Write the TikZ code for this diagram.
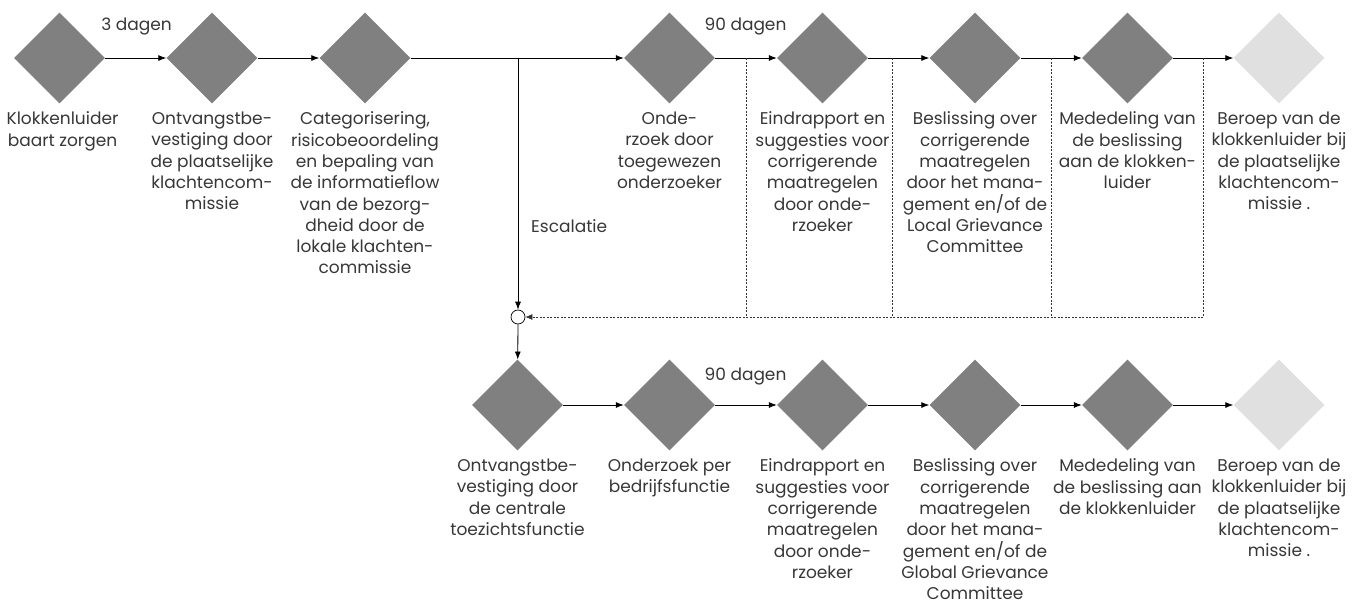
\documentclass[tikz,border=0pt]{standalone}
\usepackage{fontspec}
\setmainfont{Poppins}
\usetikzlibrary{shapes.geometric,arrows.meta,positioning}
\definecolor{dia}{RGB}{128,128,128}
\definecolor{dialight}{RGB}{224,224,224}
\definecolor{txt}{RGB}{55,55,55}
\begin{document}
\begin{tikzpicture}[x=1pt,y=-1pt,
  dnode/.style={diamond, fill=dia, minimum width=91pt, minimum height=91pt, inner sep=0pt, draw=none},
  dlight/.style={dnode, fill=dialight},
  lbl/.style={anchor=north, align=center, text=txt, font=\fontsize{17}{21.3}\selectfont, inner sep=0pt},
  note/.style={text=txt, font=\fontsize{17}{21.3}\selectfont, inner sep=0pt},
  flow/.style={-{Latex[length=8pt,width=6pt]}, line width=0.8pt, black},
  dashline/.style={dash pattern=on 2pt off 1.5pt, line width=0.7pt, black!80},
]
\useasboundingbox (0,0) rectangle (1363,605);
% top row
\node[dnode] (t1) at (59.5,58) {};
\node[dnode] (t2) at (212,58) {};
\node[dnode] (t3) at (365,58) {};
\node[dnode] (t4) at (669.5,58) {};
\node[dnode] (t5) at (822.5,58) {};
\node[dnode] (t6) at (975,58) {};
\node[dnode] (t7) at (1127.5,58) {};
\node[dlight] (t8) at (1279,58) {};
% bottom row
\node[dnode] (b1) at (517.5,405) {};
\node[dnode] (b2) at (669.5,405) {};
\node[dnode] (b3) at (822.5,405) {};
\node[dnode] (b4) at (975,405) {};
\node[dnode] (b5) at (1127.5,405) {};
\node[dlight] (b6) at (1279,405) {};
% junction circle
\node[circle, draw, line width=0.7pt, minimum size=14pt, inner sep=0pt, fill=white] (c) at (518,317) {};
\coordinate (esc) at (518,58);
\coordinate (d1) at (746,58);
\coordinate (d2) at (892,58);
\coordinate (d3) at (1051,58);
\coordinate (d4) at (1203,58);
% labels top
\node[lbl, below=8pt of t1, xshift=3pt] (l1) {Klokkenluider\\baart zorgen};
\node[lbl, below=8pt of t2] (l2) {Ontvangstbe-\\vestiging door\\de plaatselijke\\klachtencom-\\missie};
\node[lbl, below=8pt of t3] (l3) {Categorisering,\\risicobeoordeling\\en bepaling van\\de informatieflow\\van de bezorg-\\dheid door de\\lokale klachten-\\commissie};
\node[lbl, below=8pt of t4] (l4) {Onde-\\rzoek door\\toegewezen\\onderzoeker};
\node[lbl, below=8pt of t5] (l5) {Eindrapport en\\suggesties voor\\corrigerende\\maatregelen\\door onde-\\rzoeker};
\node[lbl, below=8pt of t6] (l6) {Beslissing over\\corrigerende\\maatregelen\\door het mana-\\gement en/of de\\Local Grievance\\Committee};
\node[lbl, below=8pt of t7] (l7) {Mededeling van\\de beslissing\\aan de klokken-\\luider};
\node[lbl, below=8pt of t8] (l8) {Beroep van de\\klokkenluider bij\\de plaatselijke\\klachtencom-\\missie .};
% labels bottom
\node[lbl, below=8pt of b1] (m1) {Ontvangstbe-\\vestiging door\\de centrale\\toezichtsfunctie};
\node[lbl, below=8pt of b2] (m2) {Onderzoek per\\bedrijfsfunctie};
\node[lbl, below=8pt of b3] (m3) {Eindrapport en\\suggesties voor\\corrigerende\\maatregelen\\door onde-\\rzoeker};
\node[lbl, below=8pt of b4] (m4) {Beslissing over\\corrigerende\\maatregelen\\door het mana-\\gement en/of de\\Global Grievance\\Committee};
\node[lbl, below=8pt of b5] (m5) {Mededeling van\\de beslissing aan\\de klokkenluider};
\node[lbl, below=8pt of b6] (m6) {Beroep van de\\klokkenluider bij\\de plaatselijke\\klachtencom-\\missie .};
% notes
\node[note] (n1) at (136.5,27) {3 dagen};
\node[note] (n2) at (745.5,27) {90 dagen};
\node[note] (n3) at (745.5,377) {90 dagen};
\node[note, anchor=west] (n4) at (531,226) {Escalatie};
% connectors top
\draw[flow] (t1) -- (t2);
\draw[flow] (t2) -- (t3);
\draw[flow] (t3) -- (t4);
\draw[flow] (t4) -- (t5);
\draw[flow] (t5) -- (t6);
\draw[flow] (t6) -- (t7);
\draw[flow] (t7) -- (t8);
% escalation
\draw[flow] (esc) -- (c);
\draw[flow] (c) -- (b1);
% dashed returns
\draw[dashline] (d1) -- (d1 |- c);
\draw[dashline] (d2) -- (d2 |- c);
\draw[dashline] (d3) -- (d3 |- c);
\draw[dashline] (d4) -- (d4 |- c);
\draw[dashline, -{Latex[length=7pt,width=6pt]}] (d4 |- c) -- (c);
% connectors bottom
\draw[flow] (b1) -- (b2);
\draw[flow] (b2) -- (b3);
\draw[flow] (b3) -- (b4);
\draw[flow] (b4) -- (b5);
\draw[flow] (b5) -- (b6);
\end{tikzpicture}
\end{document}
